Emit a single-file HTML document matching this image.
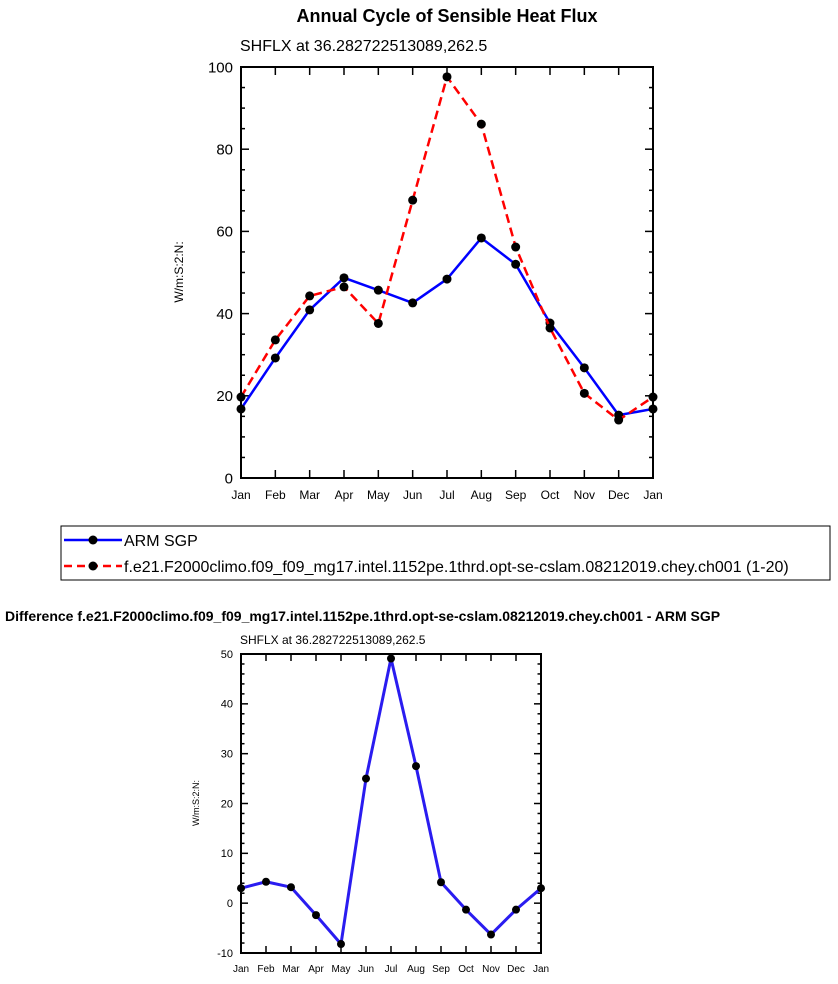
<!DOCTYPE html>
<html><head><meta charset="utf-8"><style>
html,body{margin:0;padding:0;background:#fff;}
svg{display:block;font-family:"Liberation Sans",Arial,sans-serif;}
</style></head><body>
<svg id="svg" width="838" height="984" viewBox="0 0 838 984">
<text x="447" y="22" text-anchor="middle" font-size="18" font-weight="bold">Annual Cycle of Sensible Heat Flux</text>
<text x="240" y="51" font-size="16">SHFLX at 36.282722513089,262.5</text>
<text transform="translate(183,272) rotate(-90)" text-anchor="middle" font-size="12">W/m:S:2:N:</text>
<g id="top"></g>
<g>
<rect x="61" y="526" width="769" height="54" fill="none" stroke="#000" stroke-width="1"/>
<g>
<line x1="64" y1="540" x2="122" y2="540" stroke="#0000ff" stroke-width="2.5"/><circle cx="93" cy="540" r="4.5"/>
<text x="124" y="546" font-size="16">ARM SGP</text></g>
<g>
<line x1="64" y1="566" x2="122" y2="566" stroke="#ff0000" stroke-width="2.5" stroke-dasharray="8,5"/><circle cx="93" cy="566" r="4.5"/>
<text x="124" y="572" font-size="16">f.e21.F2000climo.f09_f09_mg17.intel.1152pe.1thrd.opt-se-cslam.08212019.chey.ch001 (1-20)</text></g>
</g>
<text x="5" y="621" font-size="14" font-weight="bold">Difference f.e21.F2000climo.f09_f09_mg17.intel.1152pe.1thrd.opt-se-cslam.08212019.chey.ch001 - ARM SGP</text>
<text x="240" y="644" font-size="12">SHFLX at 36.282722513089,262.5</text>
<text transform="translate(199,803) rotate(-90)" text-anchor="middle" font-size="9">W/m:S:2:N:</text>
<g id="bot"></g>
</svg>
<script>
const months = ["Jan","Feb","Mar","Apr","May","Jun","Jul","Aug","Sep","Oct","Nov","Dec","Jan"];
const armValues = [16.8,29.2,40.9,48.7,45.7,42.6,48.4,58.4,52.0,37.7,26.8,15.3,16.8];
const modelValues = [19.7,33.6,44.3,46.5,37.6,67.6,97.6,86.1,56.2,36.5,20.6,14.1,19.7];
const diffValues = [3.0,4.3,3.2,-2.4,-8.2,25.0,49.1,27.5,4.2,-1.3,-6.3,-1.3,3.0];
const topTicks = [0,20,40,60,80,100];
const botTicks = [-10,0,10,20,30,40,50];
const NS="http://www.w3.org/2000/svg";
function mk(p,t,a){const e=document.createElementNS(NS,t);for(const k in a)e.setAttribute(k,a[k]);p.appendChild(e);return e;}
function plot(g,o){
  const xs=i=>o.x0+(o.x1-o.x0)*i/(months.length-1);
  const ys=v=>o.y1-(o.y1-o.y0)*(v-o.min)/(o.max-o.min);
  for(let v=o.min;v<=o.max+1e-9;v+=o.minor){
    const maj=o.ticks.some(t=>Math.abs(t-v)<1e-9);const L=maj?o.majL:o.minL;
    mk(g,'line',{x1:o.x0,x2:o.x0+L,y1:ys(v),y2:ys(v),stroke:'#000','stroke-width':1.5});
    mk(g,'line',{x1:o.x1,x2:o.x1-L,y1:ys(v),y2:ys(v),stroke:'#000','stroke-width':1.5});
  }
  o.ticks.forEach(t=>{const e=mk(g,'text',{x:o.x0-8,y:ys(t)+o.fs*0.35,'text-anchor':'end','font-size':o.fs});e.textContent=t;
    
    });
  months.forEach((m,i)=>{
    mk(g,'line',{x1:xs(i),x2:xs(i),y1:o.y1,y2:o.y1-o.majL,stroke:'#000','stroke-width':1.5});
    mk(g,'line',{x1:xs(i),x2:xs(i),y1:o.y0,y2:o.y0+o.majL,stroke:'#000','stroke-width':1.5});
    const e=mk(g,'text',{x:xs(i),y:o.y1+o.xfs+9,'text-anchor':'middle','font-size':o.xfs});e.textContent=m;
    
    
  });
  o.series.forEach(s=>{
    const pl=mk(g,'polyline',{points:s.v.map((v,i)=>xs(i)+','+ys(v)).join(' '),fill:'none',stroke:s.c,'stroke-width':s.w,'stroke-dasharray':s.d||'none','stroke-linejoin':'round'});
    
    
    s.v.forEach((v,i)=>{const c=mk(g,'circle',{cx:xs(i),cy:ys(v),r:o.r,fill:'#000'});
      
      });
  });
  const f=mk(g,'rect',{x:o.x0,y:o.y0,width:o.x1-o.x0,height:o.y1-o.y0,fill:'none',stroke:'#000','stroke-width':2});
  
  
}
plot(document.getElementById('top'),{x0:241,x1:653,y0:67,y1:478,min:0,max:100,ticks:topTicks,minor:5,majL:8,minL:4,fs:15,xfs:12,r:4.5,
  series:[{v:armValues,c:'#0000ff',w:2.5,n:'arm'},{v:modelValues,c:'#ff0000',w:2.5,d:'9,5',n:'model'}]});
plot(document.getElementById('bot'),{x0:241,x1:541,y0:654,y1:953,min:-10,max:50,ticks:botTicks,minor:2,majL:7,minL:3.5,fs:11,xfs:10,r:4,
  series:[{v:diffValues,c:'#2a1cf0',w:3,n:'diff'}]});
</script>
</body></html>
